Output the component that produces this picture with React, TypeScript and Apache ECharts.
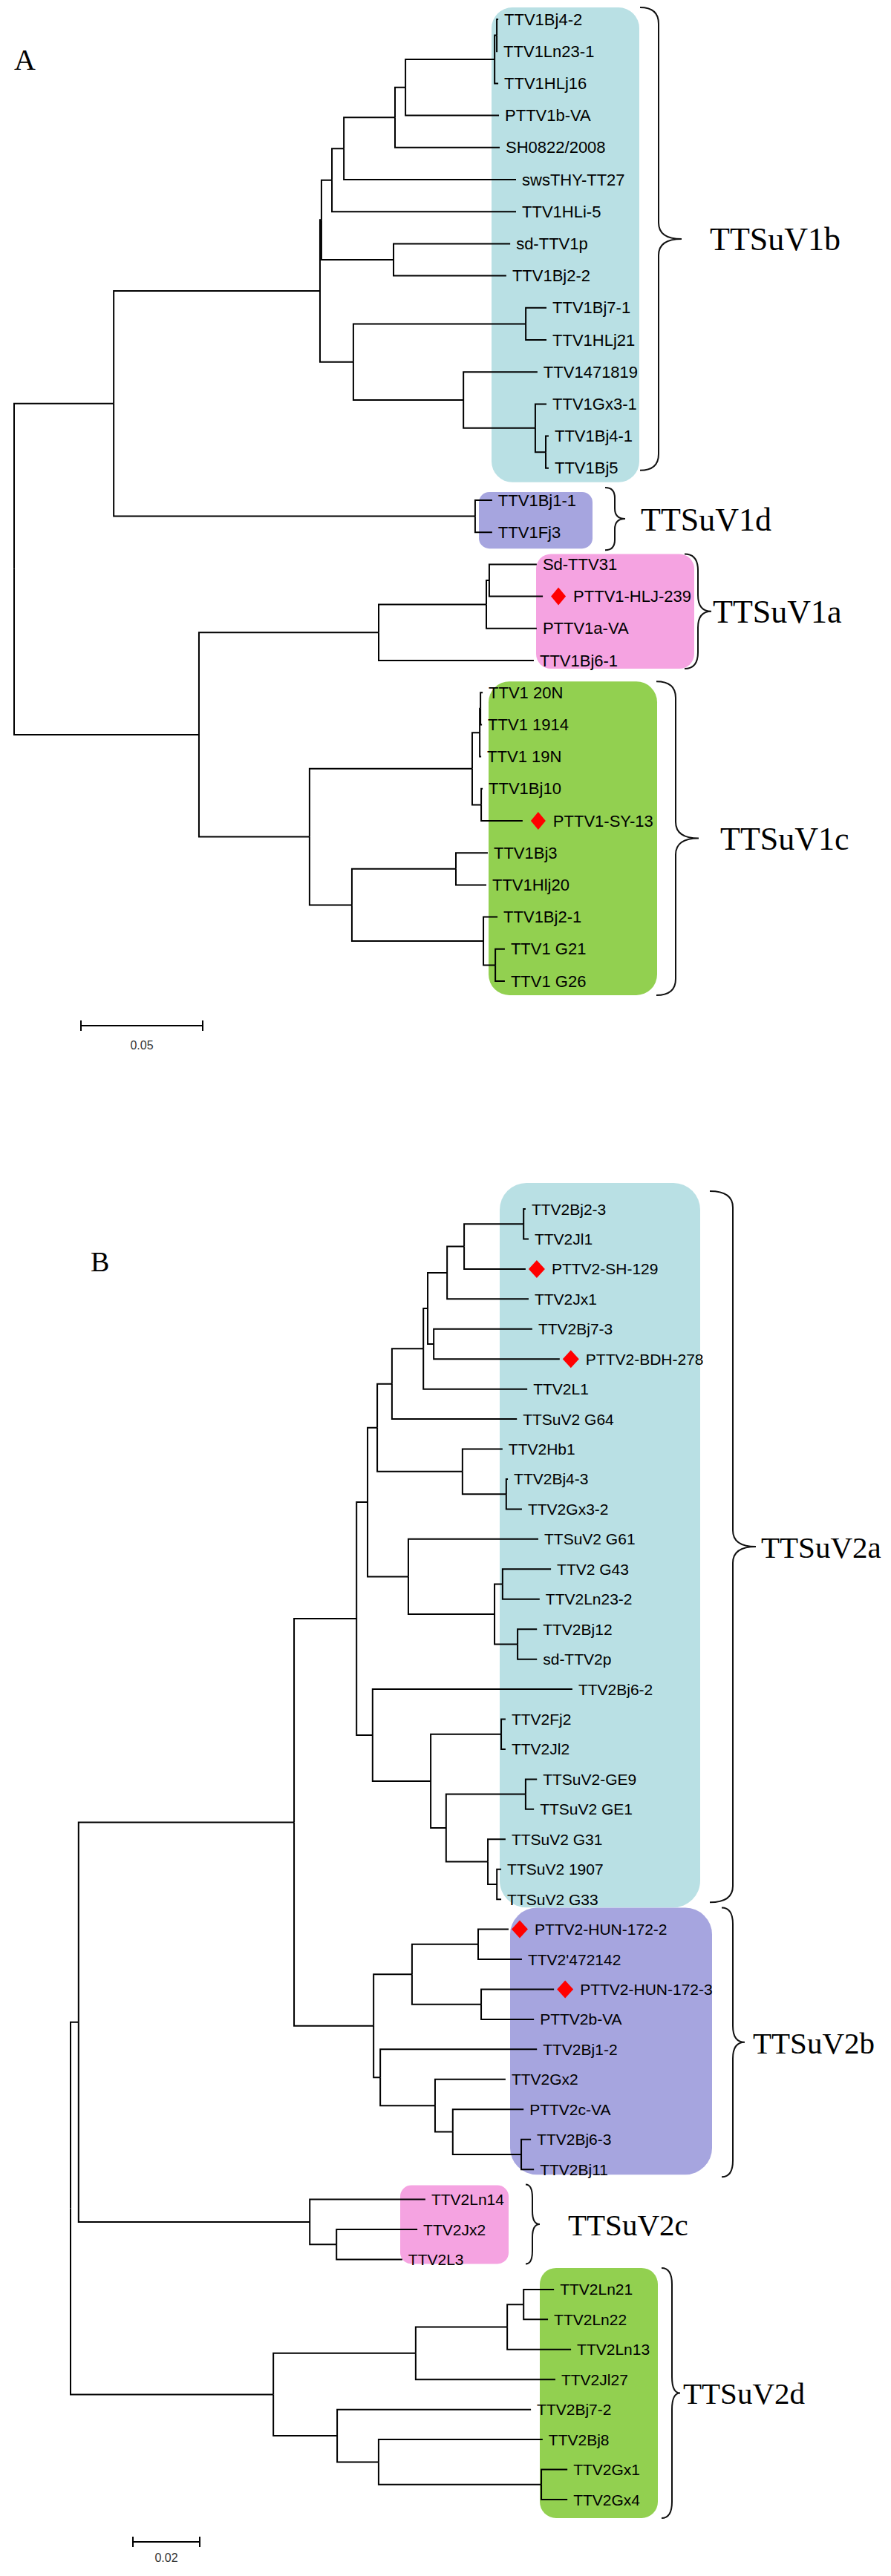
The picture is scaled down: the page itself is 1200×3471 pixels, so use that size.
import React, { useEffect, useRef } from "react";
import * as echarts from "echarts";

// ---------------- Panel A (TTSuV1) ----------------
// internal nodes: [id, parent, distance from root (substitutions/site)]
const nodesA: [string, string | null, number][] = [
  ["rootA", null, 0],
  ["U", "rootA", 0.0409],
  ["a7", "U", 0.1256],
  ["a7p", "a7", 0.1262],
  ["a5", "a7p", 0.1305],
  ["a4", "a5", 0.1354],
  ["a3", "a4", 0.1564],
  ["a2", "a3", 0.1607],
  ["a1", "a2", 0.1973],
  ["a1a", "a1", 0.1982],
  ["a6", "a7p", 0.1558],
  ["a8", "a7", 0.1393],
  ["a9", "a8", 0.2101],
  ["a10", "a8", 0.1845],
  ["a11", "a10", 0.214],
  ["a12", "a11", 0.2183],
  ["v1d", "U", 0.1893],
  ["L", "rootA", 0.0759],
  ["b1", "L", 0.1497],
  ["b2", "b1", 0.1939],
  ["b3", "b2", 0.1951],
  ["c1", "L", 0.1213],
  ["c2", "c1", 0.1881],
  ["c3", "c2", 0.1912],
  ["c3a", "c3", 0.1915],
  ["c4", "c2", 0.1918],
  ["c5", "c1", 0.1387],
  ["c6", "c5", 0.1814],
  ["c7", "c5", 0.1927],
  ["c8", "c7", 0.1976],
];
// leaves top to bottom: [name, parent, distance from root]
const leavesA: [string, string, number][] = [
  ["TTV1Bj4-2", "a1a", 0.1988],
  ["TTV1Ln23-1", "a1a", 0.1985],
  ["TTV1HLj16", "a1", 0.1988],
  ["PTTV1b-VA", "a2", 0.1991],
  ["SH0822/2008", "a3", 0.1994],
  ["swsTHY-TT27", "a4", 0.2061],
  ["TTV1HLi-5", "a5", 0.2061],
  ["sd-TTV1p", "a6", 0.2037],
  ["TTV1Bj2-2", "a6", 0.2021],
  ["TTV1Bj7-1", "a9", 0.2186],
  ["TTV1HLj21", "a9", 0.2186],
  ["TTV1471819", "a10", 0.2149],
  ["TTV1Gx3-1", "a11", 0.2186],
  ["TTV1Bj4-1", "a12", 0.2195],
  ["TTV1Bj5", "a12", 0.2195],
  ["TTV1Bj1-1", "v1d", 0.1963],
  ["TTV1Fj3", "v1d", 0.1963],
  ["Sd-TTV31", "b3", 0.2146],
  ["PTTV1-HLJ-239", "b3", 0.2171],
  ["PTTV1a-VA", "b2", 0.2146],
  ["TTV1Bj6-1", "b1", 0.2134],
  ["TTV1 20N", "c3a", 0.1924],
  ["TTV1 1914", "c3a", 0.1921],
  ["TTV1 19N", "c3", 0.1918],
  ["TTV1Bj10", "c4", 0.1924],
  ["PTTV1-SY-13", "c4", 0.2088],
  ["TTV1Bj3", "c6", 0.1945],
  ["TTV1Hlj20", "c6", 0.1939],
  ["TTV1Bj2-1", "c7", 0.1985],
  ["TTV1 G21", "c8", 0.2015],
  ["TTV1 G26", "c8", 0.2015],
];
const markedA: string[] = ["PTTV1-HLJ-239", "PTTV1-SY-13"];
// clade name, first leaf index, last leaf index
const cladesA: [string, number, number][] = [
  ["TTSuV1b", 0, 14],
  ["TTSuV1d", 15, 16],
  ["TTSuV1a", 17, 20],
  ["TTSuV1c", 21, 30],
];
const scaleValueA = 0.05;
const scaleLabelA = "0.05";

// ---------------- Panel B (TTSuV2) ----------------
const nodesB: [string, string | null, number][] = [
  ["rootB", null, 0],
  ["s", "rootB", 0.0024],
  ["d20", "s", 0.0669],
  ["d12", "d20", 0.0856],
  ["d11", "d12", 0.0889],
  ["d9", "d11", 0.0918],
  ["d7", "d9", 0.0962],
  ["d6", "d7", 0.1056],
  ["d5", "d6", 0.1069],
  ["d3", "d5", 0.1127],
  ["d2", "d3", 0.1178],
  ["d1", "d2", 0.1356],
  ["d4", "d5", 0.1087],
  ["d8", "d9", 0.1173],
  ["d8a", "d8", 0.1304],
  ["d10", "d11", 0.1011],
  ["d10c", "d10", 0.1269],
  ["d10a", "d10c", 0.1293],
  ["d10b", "d10c", 0.1338],
  ["d13", "d12", 0.0904],
  ["d14", "d13", 0.1078],
  ["d15", "d14", 0.1289],
  ["d16", "d14", 0.1124],
  ["d17", "d16", 0.1362],
  ["d18", "d16", 0.1249],
  ["d19", "d18", 0.1276],
  ["e4", "d20", 0.0907],
  ["e3", "e4", 0.1022],
  ["e1", "e3", 0.122],
  ["e2", "e3", 0.1229],
  ["e5", "e4", 0.0927],
  ["e6", "e5", 0.1091],
  ["e7", "e6", 0.1144],
  ["e8", "e7", 0.1349],
  ["f2", "s", 0.0716],
  ["f1", "f2", 0.0796],
  ["g7", "rootB", 0.0607],
  ["g3", "g7", 0.1033],
  ["g2", "g3", 0.1307],
  ["g1", "g2", 0.1356],
  ["g6", "g7", 0.0798],
  ["g5", "g6", 0.0922],
  ["g4", "g5", 0.1409],
];
const leavesB: [string, string, number][] = [
  ["TTV2Bj2-3", "d1", 0.1362],
  ["TTV2Jl1", "d1", 0.1371],
  ["PTTV2-SH-129", "d2", 0.1362],
  ["TTV2Jx1", "d3", 0.1371],
  ["TTV2Bj7-3", "d4", 0.1382],
  ["PTTV2-BDH-278", "d4", 0.1464],
  ["TTV2L1", "d6", 0.1367],
  ["TTSuV2 G64", "d7", 0.1336],
  ["TTV2Hb1", "d8", 0.1293],
  ["TTV2Bj4-3", "d8a", 0.1309],
  ["TTV2Gx3-2", "d8a", 0.1351],
  ["TTSuV2 G61", "d10", 0.14],
  ["TTV2 G43", "d10a", 0.1438],
  ["TTV2Ln23-2", "d10a", 0.1404],
  ["TTV2Bj12", "d10b", 0.1396],
  ["sd-TTV2p", "d10b", 0.1396],
  ["TTV2Bj6-2", "d13", 0.1502],
  ["TTV2Fj2", "d15", 0.1302],
  ["TTV2Jl2", "d15", 0.1302],
  ["TTSuV2-GE9", "d17", 0.1396],
  ["TTSuV2 GE1", "d17", 0.1387],
  ["TTSuV2 G31", "d18", 0.1302],
  ["TTSuV2 1907", "d19", 0.1289],
  ["TTSuV2 G33", "d19", 0.1289],
  ["PTTV2-HUN-172-2", "e1", 0.1311],
  ["TTV2'472142", "e1", 0.1351],
  ["PTTV2-HUN-172-3", "e2", 0.1447],
  ["PTTV2b-VA", "e2", 0.1387],
  ["TTV2Bj1-2", "e5", 0.1396],
  ["TTV2Gx2", "e6", 0.1302],
  ["PTTV2c-VA", "e7", 0.1356],
  ["TTV2Bj6-3", "e8", 0.1378],
  ["TTV2Bj11", "e8", 0.1387],
  ["TTV2Ln14", "f2", 0.1062],
  ["TTV2Jx2", "f1", 0.1038],
  ["TTV2L3", "f1", 0.0993],
  ["TTV2Ln21", "g1", 0.1447],
  ["TTV2Ln22", "g1", 0.1429],
  ["TTV2Ln13", "g2", 0.1498],
  ["TTV2Jl27", "g3", 0.1451],
  ["TTV2Bj7-2", "g6", 0.1378],
  ["TTV2Bj8", "g5", 0.1413],
  ["TTV2Gx1", "g4", 0.1487],
  ["TTV2Gx4", "g4", 0.1487],
];
const markedB: string[] = ["PTTV2-SH-129", "PTTV2-BDH-278", "PTTV2-HUN-172-2", "PTTV2-HUN-172-3"];
const cladesB: [string, number, number][] = [
  ["TTSuV2a", 0, 23],
  ["TTSuV2b", 24, 32],
  ["TTSuV2c", 33, 35],
  ["TTSuV2d", 36, 43],
];
const scaleValueB = 0.02;
const scaleLabelB = "0.02";

// ---------------- layout / style (pixels) ----------------
const CYAN = "#b9e0e4";
const LAV = "#a6a5df";
const PINK = "#f5a3e1";
const GREEN = "#92d050";
const SANS = "'Liberation Sans', Arial, sans-serif";
const SERIF = "'Liberation Serif', 'Times New Roman', serif";

type CladeLayout = { box: number[]; color: string; brace: number[]; labelX: number };
type PanelLayout = {
  gridLeft: number; gridTop: number; gridWidth: number; gridHeight: number; pxPerUnit: number;
  leafFont: number; cladeFont: number; labelGap: number; markGap: number; markTextGap: number;
  markSize: number[]; letter: { text: string; x: number; y: number; size: number };
  scaleBar: { x: number; y: number; labelY: number; tick: number };
  clades: CladeLayout[];
};

const layoutA: PanelLayout = {
  gridLeft: 19, gridTop: 26, gridWidth: 1150, gridHeight: 1296, pxPerUnit: 3280,
  leafFont: 22, cladeFont: 44, labelGap: 8, markGap: 21, markTextGap: 41, markSize: [20, 24],
  letter: { text: "A", x: 19, y: 80, size: 40 },
  scaleBar: { x: 109, y: 1382, labelY: 1408, tick: 7 },
  clades: [
    { box: [662, 861, -16, 19, 28], color: CYAN, brace: [862, 887, 918, -16, 3], labelX: 956 },
    { box: [645, 798, -11, 22, 14], color: LAV, brace: [815, 828, 842, -17, 24], labelX: 863 },
    { box: [722, 935, -14, 11, 20], color: PINK, brace: [922, 940, 958, -14, 11], labelX: 960 },
    { box: [658, 885, -15, 19, 28], color: GREEN, brace: [884, 910, 941, -15, 19], labelX: 970 },
  ],
};
const layoutB: PanelLayout = {
  gridLeft: 95, gridTop: 1629, gridWidth: 1080, gridHeight: 1739, pxPerUnit: 4500,
  leafFont: 21, cladeFont: 41, labelGap: 8, markGap: 15, markTextGap: 35, markSize: [22, 24],
  letter: { text: "B", x: 122, y: 1700, size: 38 },
  scaleBar: { x: 179, y: 3425, labelY: 3446, tick: 7 },
  clades: [
    { box: [673, 943, -35, 11, 36], color: CYAN, brace: [956, 987, 1018, -24, 4], labelX: 1025 },
    { box: [687, 959, -29, 7, 36], color: LAV, brace: [972, 987, 1003, -29, 10], labelX: 1014 },
    { box: [539, 685, -19, 6, 15], color: PINK, brace: [708, 717, 727, -20, 6], labelX: 765 },
    { box: [727, 886, -29, 25, 22], color: GREEN, brace: [891, 905, 916, -29, 25], labelX: 920 },
  ],
};

function buildTree(nodes: [string, string | null, number][], leaves: [string, string, number][]) {
  const depth: Record<string, number> = {};
  const parent: Record<string, string | null> = {};
  const y: Record<string, number> = {};
  const kids: Record<string, string[]> = {};
  nodes.forEach(([id, p, d]) => { depth[id] = d; parent[id] = p; });
  leaves.forEach(([name, p, d], i) => { depth[name] = d; parent[name] = p; y[name] = i; });
  const all = [...nodes.map((n) => n[0]), ...leaves.map((l) => l[0])];
  all.forEach((id) => {
    const p = parent[id];
    if (p) (kids[p] = kids[p] || []).push(id);
  });
  const getY = (id: string): number => {
    if (y[id] !== undefined) return y[id];
    const ys = (kids[id] || []).map(getY);
    y[id] = (Math.min(...ys) + Math.max(...ys)) / 2;
    return y[id];
  };
  nodes.forEach((n) => getY(n[0]));
  const edges: number[][][] = [];
  all.forEach((id) => {
    const p = parent[id];
    if (!p) return;
    edges.push([
      [depth[p], y[p]],
      [depth[p], y[id]],
      [depth[id], y[id]],
    ]);
  });
  return edges;
}

function bracePath(xe: number, xv: number, xt: number, y0: number, y1: number) {
  const ym = (y0 + y1) / 2;
  const r = Math.min(22, (y1 - y0) / 6);
  return (
    `M${xe},${y0} Q${xv},${y0} ${xv},${y0 + r} L${xv},${ym - r} ` +
    `Q${xv},${ym} ${xt},${ym} Q${xv},${ym} ${xv},${ym + r} ` +
    `L${xv},${y1 - r} Q${xv},${y1} ${xe},${y1}`
  );
}

function panelOption(
  idx: number,
  nodes: [string, string | null, number][],
  leaves: [string, string, number][],
  marked: string[],
  clades: [string, number, number][],
  scaleValue: number,
  scaleLabel: string,
  L: PanelLayout
) {
  const edges = buildTree(nodes, leaves);
  const grid = { left: L.gridLeft, top: L.gridTop, width: L.gridWidth, height: L.gridHeight, containLabel: false };
  const xAxis = {
    type: "value", gridIndex: idx, min: 0, max: L.gridWidth / L.pxPerUnit, show: false,
    splitLine: { show: false },
  };
  const yAxis = {
    type: "value", gridIndex: idx, min: 0, max: leaves.length - 1, inverse: true, show: false,
    splitLine: { show: false },
  };
  const axes = { xAxisIndex: idx, yAxisIndex: idx };
  const series: any[] = [
    {
      type: "custom", ...axes, z: 1, silent: true,
      data: clades.map((c) => [0, c[1]]),
      renderItem: (params: any, api: any) => {
        const c = clades[params.dataIndex];
        const lay = L.clades[params.dataIndex];
        const yTop = api.coord([0, c[1]])[1] + lay.box[2];
        const yBot = api.coord([0, c[2]])[1] + lay.box[3];
        return {
          type: "rect",
          shape: { x: lay.box[0], y: yTop, width: lay.box[1] - lay.box[0], height: yBot - yTop, r: lay.box[4] },
          style: { fill: lay.color },
        };
      },
    },
    {
      type: "lines", ...axes, coordinateSystem: "cartesian2d", polyline: true, z: 3, silent: true,
      lineStyle: { color: "#000", width: 2, opacity: 1, join: "miter" },
      data: edges.map((c) => ({ coords: c })),
    },
    {
      type: "custom", ...axes, z: 4, silent: true,
      data: leaves.map((l, i) => [l[2], i]),
      renderItem: (params: any, api: any) => {
        const leaf = leaves[params.dataIndex];
        const pt = api.coord([api.value(0), api.value(1)]);
        const gap = marked.includes(leaf[0]) ? L.markTextGap : L.labelGap;
        return {
          type: "text",
          x: pt[0] + gap,
          y: pt[1],
          style: {
            text: leaf[0], fill: "#000", fontSize: L.leafFont, fontFamily: SANS,
            align: "left", verticalAlign: "middle",
          },
        };
      },
    },
    {
      type: "scatter", ...axes, z: 5, silent: true,
      symbol: "diamond", symbolSize: L.markSize, symbolOffset: [L.markGap, 0],
      itemStyle: { color: "#ff0000", opacity: 1 },
      data: leaves.map((l, i) => [l[2], i, l[0]]).filter((d) => marked.includes(d[2] as string)).map((d) => [d[0], d[1]]),
    },
    {
      type: "custom", ...axes, z: 4, silent: true,
      data: clades.map((c) => [0, c[1]]),
      renderItem: (params: any, api: any) => {
        const c = clades[params.dataIndex];
        const lay = L.clades[params.dataIndex];
        const y0 = api.coord([0, c[1]])[1] + lay.brace[3];
        const y1 = api.coord([0, c[2]])[1] + lay.brace[4];
        const ym = (y0 + y1) / 2;
        return {
          type: "group",
          children: [
            {
              type: "path",
              shape: { pathData: bracePath(lay.brace[0], lay.brace[1], lay.brace[2], y0, y1) },
              style: { stroke: "#111", lineWidth: 2, fill: "none" },
            },
            {
              type: "text",
              x: lay.labelX,
              y: ym + 1,
              style: {
                text: c[0], fill: "#000", fontSize: L.cladeFont, fontFamily: SERIF,
                align: "left", verticalAlign: "middle",
              },
            },
          ],
        };
      },
    },
    {
      type: "custom", ...axes, z: 4, silent: true,
      data: [[0, 0]],
      renderItem: (params: any, api: any) => {
        const len = api.coord([scaleValue, 0])[0] - api.coord([0, 0])[0];
        const sb = L.scaleBar;
        const x0 = sb.x;
        const x1 = sb.x + len;
        const st = { stroke: "#000", lineWidth: 2 };
        return {
          type: "group",
          children: [
            { type: "line", shape: { x1: x0, y1: sb.y, x2: x1, y2: sb.y }, style: st },
            { type: "line", shape: { x1: x0, y1: sb.y - sb.tick, x2: x0, y2: sb.y + sb.tick }, style: st },
            { type: "line", shape: { x1: x1, y1: sb.y - sb.tick, x2: x1, y2: sb.y + sb.tick }, style: st },
            {
              type: "text", x: (x0 + x1) / 2, y: sb.labelY,
              style: { text: scaleLabel, fill: "#333", fontSize: 16, fontFamily: SANS, align: "center", verticalAlign: "middle" },
            },
          ],
        };
      },
    },
  ];
  const letter = {
    type: "text", left: L.letter.x, top: L.letter.y - L.letter.size / 2,
    style: { text: L.letter.text, fill: "#000", fontSize: L.letter.size, fontFamily: SERIF },
  };
  return { grid, xAxis, yAxis, series, letter };
}

export default function App() {
  const ref = useRef<HTMLDivElement>(null);
  useEffect(() => {
    document.body.style.margin = "0";
    if (!ref.current) return;
    const chart = echarts.init(ref.current, undefined, { renderer: "svg" });
    const pA = panelOption(0, nodesA, leavesA, markedA, cladesA, scaleValueA, scaleLabelA, layoutA);
    const pB = panelOption(1, nodesB, leavesB, markedB, cladesB, scaleValueB, scaleLabelB, layoutB);
    chart.setOption({
      animation: false,
      backgroundColor: "#ffffff",
      grid: [pA.grid, pB.grid],
      xAxis: [pA.xAxis, pB.xAxis],
      yAxis: [pA.yAxis, pB.yAxis],
      series: [...pA.series, ...pB.series],
      graphic: [pA.letter, pB.letter],
    });
    return () => chart.dispose();
  }, []);
  return <div ref={ref} style={{ width: 1200, height: 3471 }} />;
}
